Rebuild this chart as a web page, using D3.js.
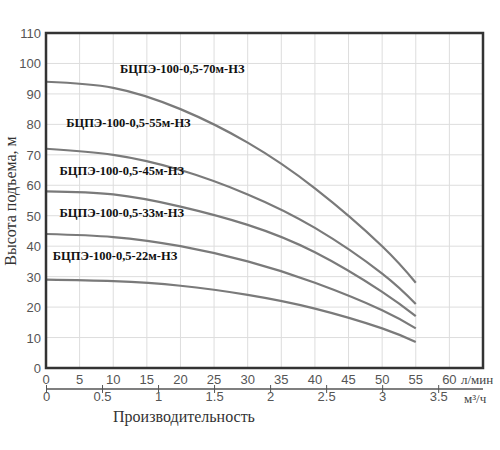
<!DOCTYPE html><html><head><meta charset="utf-8"><script src="https://cdn.jsdelivr.net/npm/d3@7"></script>
<style>body{margin:0;background:#fff}</style></head><body><svg id="c" width="500" height="450"></svg>
<script>
const flows=[0,10,20,30,40,50,55];
const seriesNames=["БЦПЭ-100-0,5-70м-НЗ","БЦПЭ-100-0,5-55м-НЗ","БЦПЭ-100-0,5-45м-НЗ","БЦПЭ-100-0,5-33м-НЗ","БЦПЭ-100-0,5-22м-НЗ"];
const h70=[94,92,85,74,59,40,28];
const h55=[72,70,65,57,46,31,21];
const h45=[58,57,53,47,38,25,17];
const h33=[44,43,40,35,28,19,13];
const h22=[29,28.5,27,24,19.5,13,8.5];
const labelAt=[[11,97],[3,79],[2,63.5],[2,49.5],[1,35.5]];
const lminTicks=d3.range(0,65,5);
const m3hTicks=[0,0.5,1,1.5,2,2.5,3,3.5];
const yTicks=d3.range(0,111,10);
const all=[h70,h55,h45,h33,h22];
const svg=d3.select("#c");
const x=d3.scaleLinear().domain([0,65]).range([46,483]);
const y=d3.scaleLinear().domain([0,110]).range([368,33]);
const g=svg.append("g");
g.selectAll(".vx").data(lminTicks.slice(1)).join("line").attr("x1",x).attr("x2",x).attr("y1",y(0)).attr("y2",y(110)).attr("stroke","#ddd");
g.selectAll(".hy").data(yTicks.slice(1)).join("line").attr("x1",x(0)).attr("x2",x(65)).attr("y1",y).attr("y2",y).attr("stroke","#ddd");
const line=d3.line().x((d,i)=>x(flows[i])).y(d=>y(d)).curve(d3.curveNatural);
all.forEach(s=>g.append("path").attr("d",line(s)).attr("fill","none").attr("stroke","#7a7a7a").attr("stroke-width",2.2));
g.append("rect").attr("x",x(0)).attr("y",y(110)).attr("width",x(65)-x(0)).attr("height",y(0)-y(110)).attr("fill","none").attr("stroke","#333").attr("stroke-width",2.5);
seriesNames.forEach((n,i)=>g.append("text").attr("x",x(labelAt[i][0])).attr("y",y(labelAt[i][1])).text(n).attr("font-family","Liberation Serif").attr("font-weight","bold").attr("font-size",12.5).attr("fill","#111"));
const sans="Liberation Sans";
g.selectAll(".yl").data(yTicks).join("text").attr("x",41).attr("y",d=>y(d)+5).attr("text-anchor","end").text(d=>d).attr("font-family",sans).attr("font-size",13).attr("fill","#555");
g.selectAll(".xl").data(lminTicks).join("text").attr("x",x).attr("y",384).attr("text-anchor","middle").text(d=>d).attr("font-family",sans).attr("font-size",13).attr("fill","#555");
g.append("text").attr("x",461).attr("y",384).text("л/мин").attr("font-family","Liberation Serif").attr("font-size",13).attr("fill","#444");
const x2=d3.scaleLinear().domain([0,65*0.06]).range([46,483]);
const ax=svg.append("g").attr("transform","translate(0,389)").call(d3.axisBottom(x2).tickValues(m3hTicks).tickSize(0).tickFormat(d3.format("")));
ax.select(".domain").attr("stroke","#555").attr("stroke-width",1.5).attr("d","M46,0H483");
ax.selectAll(".tick line").remove();
ax.selectAll(".tick").append("line").attr("y1",-4).attr("y2",4).attr("stroke","#555");
ax.selectAll("text").attr("y",3).attr("font-family",sans).attr("font-size",13).attr("fill","#555");
svg.append("text").attr("x",464).attr("y",403).text("м³/ч").attr("font-family","Liberation Serif").attr("font-size",13).attr("fill","#444");
svg.append("text").attr("x",184).attr("y",422).attr("text-anchor","middle").text("Производительность").attr("font-family","Liberation Serif").attr("font-size",16).attr("fill","#333");
svg.append("text").attr("transform","translate(16,201) rotate(-90)").attr("text-anchor","middle").text("Высота подъема, м").attr("font-family","Liberation Serif").attr("font-size",16).attr("fill","#333");
</script></body></html>
